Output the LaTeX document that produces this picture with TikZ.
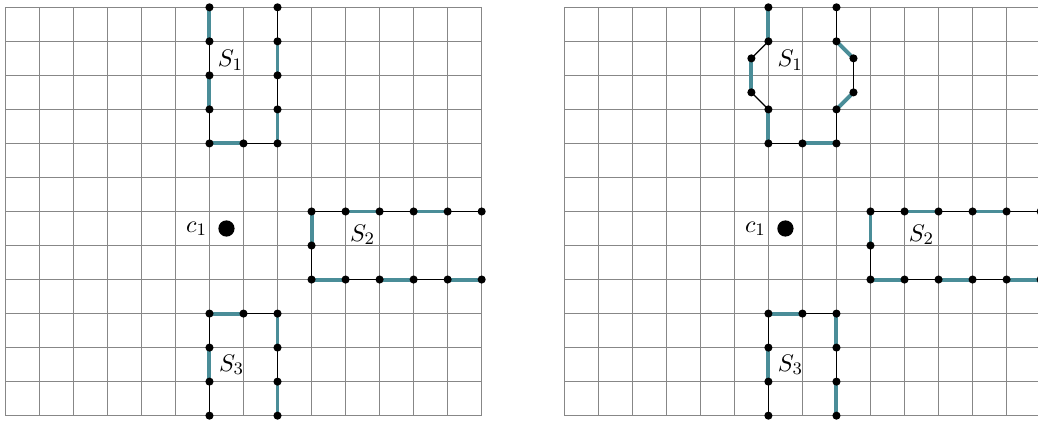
\documentclass[tikz,border=0pt]{standalone}
\usetikzlibrary{backgrounds}
\definecolor{tealseg}{RGB}{74,141,152}
\definecolor{gridgray}{RGB}{135,135,135}
\tikzset{
  gridl/.style={gridgray,line width=0.5pt,xstep=0.545cm,ystep=0.545cm},
  pt/.style={circle,fill=black,inner sep=0pt,minimum size=3.7pt},
  bigpt/.style={circle,fill=black,inner sep=0pt,minimum size=7.4pt},
  lbl/.style={inner sep=0pt,font=\fontsize{10.8pt}{13pt}\selectfont},
  blk/.style={black,line width=0.6pt},
  tl/.style={tealseg,line width=1.8pt},
}
\newcommand\commonparts{%
  \begin{scope}[on background layer]
    \draw[gridl] (0,0) grid (14,12);
  \end{scope}
  \node[bigpt] (c) at (6.5,5.5) {};
  \node[lbl] (cl) at (5.62,5.49) {$c_1$};
  % S2
  \foreach \i in {9,...,14} {\node[pt] (t\i) at (\i,6) {}; \node[pt] (b\i) at (\i,4) {};}
  \node[pt] (m) at (9,5) {};
  \node[lbl] (s2) at (10.5,5.32) {$S_2$};
  % S3
  \node[pt] (ua) at (6,3) {};
  \node[pt] (ub) at (7,3) {};
  \node[pt] (uc) at (8,3) {};
  \node[pt] (ul2) at (6,2) {};
  \node[pt] (ul1) at (6,1) {};
  \node[pt] (ul0) at (6,0) {};
  \node[pt] (ur2) at (8,2) {};
  \node[pt] (ur1) at (8,1) {};
  \node[pt] (ur0) at (8,0) {};
  \node[lbl] (s3) at (6.65,1.49) {$S_3$};
  \begin{scope}[on background layer]
    \draw[blk] (t9.center)--(t10.center);
    \draw[tl] (t10.center)--(t11.center);
    \draw[blk] (t11.center)--(t12.center);
    \draw[tl] (t12.center)--(t13.center);
    \draw[blk] (t13.center)--(t14.center);
    \draw[tl] (t9.center)--(m.center);
    \draw[blk] (m.center)--(b9.center);
    \draw[tl] (b9.center)--(b10.center);
    \draw[blk] (b10.center)--(b11.center);
    \draw[tl] (b11.center)--(b12.center);
    \draw[blk] (b12.center)--(b13.center);
    \draw[tl] (b13.center)--(b14.center);
    \draw[tl] (ua.center)--(ub.center);
    \draw[blk] (ub.center)--(uc.center);
    \draw[blk] (ua.center)--(ul2.center);
    \draw[tl] (ul2.center)--(ul1.center);
    \draw[blk] (ul1.center)--(ul0.center);
    \draw[tl] (uc.center)--(ur2.center);
    \draw[blk] (ur2.center)--(ur1.center);
    \draw[tl] (ur1.center)--(ur0.center);
  \end{scope}
}
\begin{document}
\begin{tikzpicture}[x=0.545cm,y=0.545cm]
\useasboundingbox (-0.156,-0.187) rectangle (30.35,12.215);
% left panel
\begin{scope}[name prefix=L-]
  \commonparts
  \foreach \j in {8,...,12} {\node[pt] (a\j) at (6,\j) {}; \node[pt] (r\j) at (8,\j) {};}
  \node[pt] (mid) at (7,8) {};
  \node[lbl] (s1) at (6.62,10.45) {$S_1$};
  \begin{scope}[on background layer]
    \draw[tl] (a12.center)--(a11.center);
    \draw[blk] (a11.center)--(a10.center);
    \draw[tl] (a10.center)--(a9.center);
    \draw[blk] (a9.center)--(a8.center);
    \draw[tl] (a8.center)--(mid.center);
    \draw[blk] (mid.center)--(r8.center);
    \draw[blk] (r12.center)--(r11.center);
    \draw[tl] (r11.center)--(r10.center);
    \draw[blk] (r10.center)--(r9.center);
    \draw[tl] (r9.center)--(r8.center);
  \end{scope}
\end{scope}
% right panel
\begin{scope}[shift={(16.427,0)},name prefix=R-]
  \commonparts
  \node[pt] (pa) at (6,12) {};
  \node[pt] (pb) at (6,11) {};
  \node[pt] (pc) at (5.5,10.5) {};
  \node[pt] (pd) at (5.5,9.5) {};
  \node[pt] (pe) at (6,9) {};
  \node[pt] (pf) at (6,8) {};
  \node[pt] (pg) at (7,8) {};
  \node[pt] (ph) at (8,8) {};
  \node[pt] (pi) at (8,9) {};
  \node[pt] (pj) at (8.5,9.5) {};
  \node[pt] (pk) at (8.5,10.5) {};
  \node[pt] (pl) at (8,11) {};
  \node[pt] (pm) at (8,12) {};
  \node[lbl] (s1) at (6.64,10.45) {$S_1$};
  \begin{scope}[on background layer]
    \draw[tl] (pa.center)--(pb.center);
    \draw[blk] (pb.center)--(pc.center);
    \draw[tl] (pc.center)--(pd.center);
    \draw[blk] (pd.center)--(pe.center);
    \draw[tl] (pe.center)--(pf.center);
    \draw[blk] (pf.center)--(pg.center);
    \draw[tl] (pg.center)--(ph.center);
    \draw[blk] (ph.center)--(pi.center);
    \draw[tl] (pi.center)--(pj.center);
    \draw[blk] (pj.center)--(pk.center);
    \draw[tl] (pk.center)--(pl.center);
    \draw[blk] (pl.center)--(pm.center);
  \end{scope}
\end{scope}
\end{tikzpicture}
\end{document}
